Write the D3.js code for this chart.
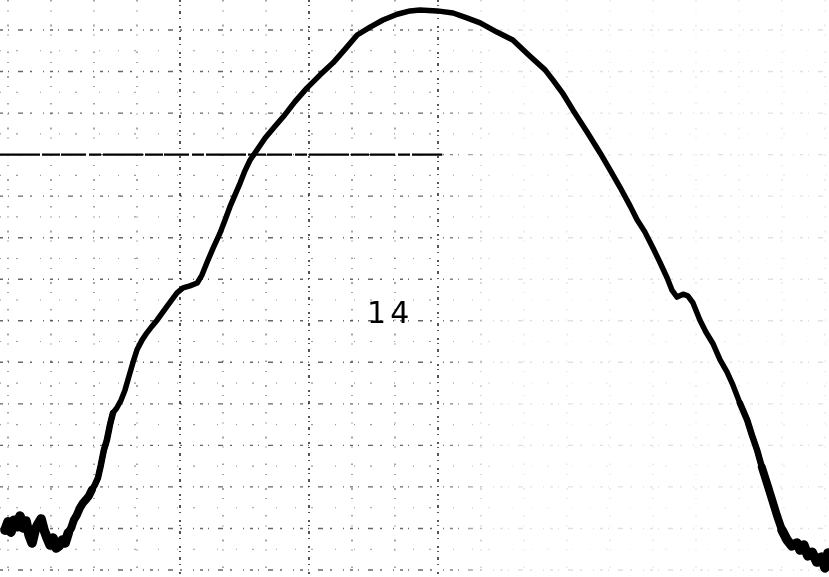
<!DOCTYPE html>
<html>
<head>
<meta charset="utf-8">
<script src="https://cdn.jsdelivr.net/npm/d3@7"></script>
<style>
  html, body { margin: 0; padding: 0; background: #fff; }
  svg { display: block; }
</style>
</head>
<body>
<svg id="chart" width="829" height="577"></svg>
<script>
// Recorder trace, in chart-paper divisions (x: time divisions, y: deflection divisions)
const traceX = [-0.07,0,0.07,0.14,0.21,0.28,0.35,0.42,0.49,0.56,0.63,0.70,0.77,0.84,0.91,0.98,1.05,1.12,1.19,1.26,1.33,1.40,1.47,1.53,1.60,1.67,1.74,1.81,1.88,1.95,2.02,2.09,2.16,2.23,2.30,2.37,2.44,2.53,2.63,2.72,2.81,2.91,3.00,3.12,3.23,3.35,3.47,3.60,3.77,3.93,4.07,4.23,4.40,4.51,4.63,4.77,4.93,5.05,5.16,5.28,5.40,5.51,5.63,5.79,5.98,6.19,6.40,6.67,6.95,7.26,7.56,7.84,8.12,8.42,8.72,9.05,9.35,9.58,9.98,10.35,10.67,10.98,11.37,11.74,12.14,12.49,12.67,12.91,13.14,13.47,13.77,14.00,14.23,14.47,14.63,14.81,15.00,15.16,15.33,15.44,15.56,15.70,15.81,15.93,16.09,16.23,16.40,16.56,16.72,16.86,17.02,17.19,17.30,17.42,17.53,17.65,17.77,17.88,18.00,18.12,18.23,18.35,18.42,18.51,18.60,18.70,18.81,18.91,19.00,19.07];
const traceY = [0.96,1.16,0.91,1.20,1.04,1.30,1.01,1.18,0.84,0.65,0.96,1.11,1.23,0.96,0.77,0.60,0.77,0.53,0.58,0.72,0.65,0.89,1.01,1.20,1.32,1.49,1.61,1.69,1.78,1.93,2.05,2.21,2.53,2.89,3.13,3.49,3.78,3.90,4.09,4.33,4.65,5.01,5.30,5.54,5.71,5.87,6.02,6.21,6.45,6.67,6.79,6.84,6.91,7.10,7.41,7.75,8.11,8.43,8.74,9.03,9.32,9.61,9.87,10.11,10.40,10.66,10.91,11.27,11.60,11.92,12.21,12.54,12.88,13.07,13.24,13.38,13.46,13.48,13.46,13.41,13.29,13.17,12.95,12.76,12.37,12.04,11.80,11.46,11.07,10.54,10.04,9.63,9.22,8.76,8.43,8.14,7.75,7.41,7.03,6.74,6.57,6.64,6.60,6.43,6.02,5.73,5.44,5.06,4.77,4.45,4.02,3.61,3.25,2.89,2.48,2.09,1.69,1.32,0.96,0.72,0.58,0.65,0.48,0.60,0.34,0.43,0.19,0.31,0.05,0.41];

// Where the pen chattered at the start and end of the run (x-ranges, divisions),
// from lightest to heaviest inking
const chatterStart = [[-0.1, 2.45], [-0.1, 1.95], [-0.1, 1.45]];
const chatterEnd = [[17.0, 19.1], [17.5, 19.1], [17.95, 19.1]];
const chatterWidths = [6.5, 8, 9.5];

// Chart-paper rulings (major divisions) and half-division rulings
const xDivisions = [0,1,2,3,4,5,6,7,8,9,10,11,12,13,14,15,16,17,18,19];
const xHeavyDivisions = [4, 7, 10];
const yDivisions = [0,1,2,3,4,5,6,7,8,9,10,11,12,13];
const yHalfDivisions = [0.5,1.5,2.5,3.5,4.5,5.5,6.5,7.5,8.5,9.5,10.5,11.5,12.5];
const baselineDivision = 10;

// Handwritten run number
const runLabel = "14";
const runLabelAt = [8.35, 5.95];

const W = 829, H = 577;
const svg = d3.select("#chart");
const x = d3.scaleLinear().domain([0, 19]).range([8, 825]);
const y = d3.scaleLinear().domain([0, 13]).range([570, 30]);

// Paper rulings fade toward the right edge of the sheet
const defs = svg.append("defs");
const grad = defs.append("linearGradient")
  .attr("id", "fade").attr("gradientUnits", "userSpaceOnUse")
  .attr("x1", 0).attr("x2", W).attr("y1", 0).attr("y2", 0);
grad.append("stop").attr("offset", 0).attr("stop-color", "#fff");
grad.append("stop").attr("offset", 0.53).attr("stop-color", "#fff");
grad.append("stop").attr("offset", 0.6).attr("stop-color", "#333");
grad.append("stop").attr("offset", 1).attr("stop-color", "#333");
defs.append("mask").attr("id", "paperMask")
  .append("rect").attr("width", W).attr("height", H).attr("fill", "url(#fade)");

const grid = svg.append("g").attr("mask", "url(#paperMask)");
const isHeavy = d => xHeavyDivisions.includes(d);

grid.selectAll("line.vmaj").data(xDivisions).join("line")
  .attr("class", "vmaj")
  .attr("x1", d => x(d)).attr("x2", d => x(d))
  .attr("y1", 0).attr("y2", H)
  .attr("stroke", "#000")
  .attr("stroke-width", d => isHeavy(d) ? 1.8 : 1.3)
  .attr("stroke-dasharray", d => isHeavy(d) ? "2 3 1 5 3 4 1 7" : "1.5 9 1 13 2 8 1 16")
  .attr("opacity", d => isHeavy(d) ? 0.75 : 0.55);

grid.selectAll("line.hmaj").data(yDivisions).join("line")
  .attr("class", "hmaj")
  .attr("x1", 0).attr("x2", W)
  .attr("y1", d => y(d)).attr("y2", d => y(d))
  .attr("stroke", "#000")
  .attr("stroke-width", 1.4)
  .attr("stroke-dasharray", "3 5 1 9 5 7 2 11 1 6")
  .attr("opacity", 0.6);

grid.selectAll("line.hmin").data(yHalfDivisions).join("line")
  .attr("class", "hmin")
  .attr("x1", 0).attr("x2", W)
  .attr("y1", d => y(d)).attr("y2", d => y(d))
  .attr("stroke", "#000")
  .attr("stroke-width", 1.1)
  .attr("stroke-dasharray", "1 15 2 22 1 18")
  .attr("opacity", 0.4);

// Heavy reference ruling across the left half of the sheet
svg.append("line")
  .attr("x1", 0).attr("x2", x(10.1))
  .attr("y1", y(baselineDivision)).attr("y2", y(baselineDivision))
  .attr("stroke", "#000").attr("stroke-width", 2.4)
  .attr("stroke-dasharray", "40 2 18 1 25 3 12 2");

// Pen trace
const pts = traceX.map((v, i) => [v, traceY[i]]);
const line = d3.line().x(d => x(d[0])).y(d => y(d[1])).curve(d3.curveLinear);
svg.append("path")
  .datum(pts)
  .attr("fill", "none")
  .attr("stroke", "#000")
  .attr("stroke-width", 5.5)
  .attr("stroke-linejoin", "round")
  .attr("stroke-linecap", "round")
  .attr("d", line);

// Chattering ends of the trace are inked more heavily, thickening gradually
[chatterStart, chatterEnd].forEach(ranges => {
  ranges.forEach((r, k) => {
    svg.append("path")
      .datum(pts.filter(p => p[0] >= r[0] && p[0] <= r[1]))
      .attr("fill", "none")
      .attr("stroke", "#000")
      .attr("stroke-width", chatterWidths[k])
      .attr("stroke-linejoin", "round")
      .attr("stroke-linecap", "round")
      .attr("d", line);
  });
});

// Run number written on the sheet
svg.append("text")
  .attr("x", x(runLabelAt[0])).attr("y", y(runLabelAt[1]))
  .attr("font-family", "DejaVu Sans, sans-serif")
  .attr("font-size", 30)
  .attr("letter-spacing", 4)
  .attr("fill", "#000")
  .text(runLabel);
</script>
</body>
</html>
